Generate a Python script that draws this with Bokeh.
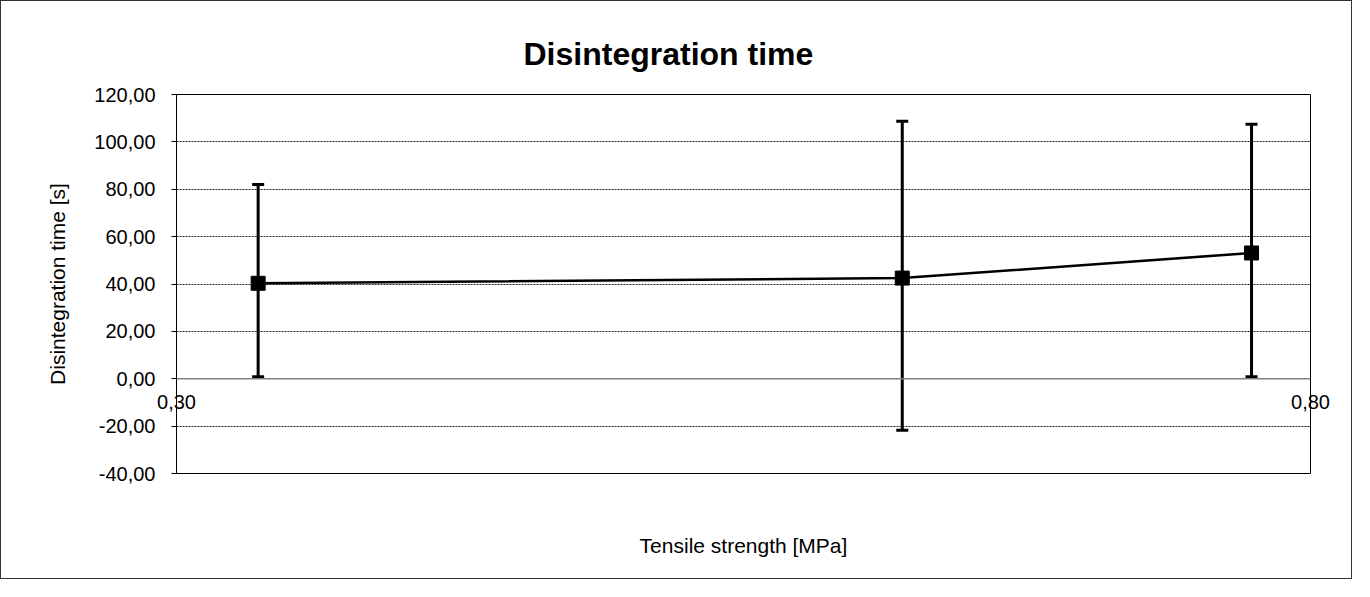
from bokeh.plotting import figure
from bokeh.models import (Range1d, FixedTicker, LinearAxis, Whisker, ColumnDataSource,
                          TeeHead, CustomJSTickFormatter, Grid, Span)
from bokeh.embed import file_html
from bokeh.resources import INLINE

# ---- data ----
tensile_strength = [0.336, 0.620, 0.774]
disintegration_time = [40.3, 42.5, 53.1]
err_lower = [0.8, -21.7, 0.8]
err_upper = [82.0, 108.7, 107.4]
y_ticks = [-40, -20, 0, 20, 40, 60, 80, 100, 120]
x_ticks = [0.30, 0.80]

FONT = "Liberation Sans"

src = ColumnDataSource(dict(x=tensile_strength, y=disintegration_time,
                            lower=err_lower, upper=err_upper))

p = figure(width=1352, height=579,
           x_range=Range1d(0.30, 0.80), y_range=Range1d(-40, 120),
           output_backend="svg", toolbar_location=None,
           x_axis_location=None, y_axis_location=None,
           min_border_left=175, min_border_right=43,
           min_border_top=93, min_border_bottom=107)
p.styles = {"border": "1px solid #333333"}
p.background_fill_color = "white"
p.border_fill_color = "white"
p.outline_line_color = "black"
p.outline_line_width = 1
for g in p.grid:
    g.visible = False

# title
p.title.text = "Disintegration time"
p.title.text_font = FONT
p.title.text_font_size = "32px"
p.title.text_font_style = "bold"
p.title.text_color = "black"
p.title.align = "left"
p.title.offset = 347
p.title.standoff = 46

fmt = CustomJSTickFormatter(code="return tick.toFixed(2).replace('.', ',');")

# y axis
yax = LinearAxis(ticker=FixedTicker(ticks=y_ticks), formatter=fmt,
                 axis_label="Disintegration time [s]")
yax.axis_line_color = "black"
yax.major_tick_line_color = "black"
yax.major_tick_out = 5
yax.major_tick_in = 0
yax.minor_tick_line_color = None
yax.major_label_text_font = FONT
yax.major_label_text_font_size = "20px"
yax.major_label_text_color = "black"
yax.major_label_standoff = 16
yax.axis_label_text_font = FONT
yax.axis_label_text_font_size = "21px"
yax.axis_label_text_font_style = "normal"
yax.axis_label_text_color = "black"
yax.axis_label_standoff = 22
p.add_layout(yax, "left")

# x tick labels: shown just under the zero line (axis crosses at y = 0)
xax = LinearAxis(ticker=FixedTicker(ticks=x_ticks), formatter=fmt)
xax.axis_line_color = None
xax.major_tick_line_color = None
xax.minor_tick_line_color = None
xax.major_tick_out = 0
xax.major_tick_in = 0
xax.major_label_text_font = FONT
xax.major_label_text_font_size = "20px"
xax.major_label_text_color = "black"
xax.major_label_standoff = -79
p.add_layout(xax, "below")

# x axis title (label-only axis)
xlab = LinearAxis(ticker=FixedTicker(ticks=[]), axis_label="Tensile strength [MPa]")
xlab.axis_line_color = None
xlab.major_tick_line_color = None
xlab.minor_tick_line_color = None
xlab.major_label_text_font_size = "0px"
xlab.axis_label_text_font = FONT
xlab.axis_label_text_font_size = "21px"
xlab.axis_label_text_font_style = "normal"
xlab.axis_label_text_color = "black"
xlab.axis_label_standoff = 60
p.add_layout(xlab, "below")

# horizontal grid
grid = Grid(dimension=1, ticker=FixedTicker(ticks=[t for t in y_ticks if t != 0]))
grid.grid_line_color = "#222222"
grid.grid_line_width = 1
grid.grid_line_dash = "2 1"
p.add_layout(grid)

# x axis line crossing at y = 0
p.add_layout(Span(location=0, dimension="width", line_color="#808080", line_width=1.5))

# error bars
wh = Whisker(source=src, base="x", lower="lower", upper="upper",
             line_color="black", line_width=3,
             upper_head=TeeHead(size=12, line_color="black", line_width=3),
             lower_head=TeeHead(size=12, line_color="black", line_width=3))
p.add_layout(wh)

p.line("x", "y", source=src, line_color="black", line_width=2.5)
p.scatter("x", "y", source=src, marker="square", size=14,
          fill_color="black", line_color="black")

open("out.html", "w").write(file_html(p, INLINE))
